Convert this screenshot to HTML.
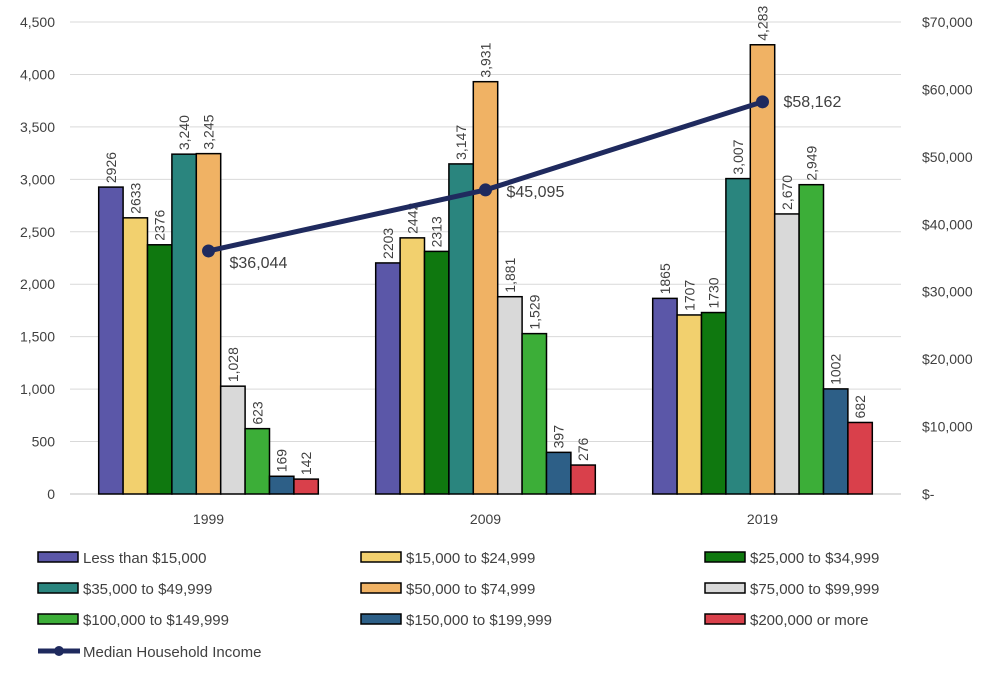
<!DOCTYPE html>
<html><head><meta charset="utf-8"><style>
body{margin:0;background:#fff;font-family:"Liberation Sans",sans-serif}
svg text{font-family:"Liberation Sans",sans-serif;fill:#404040}
</style></head><body>
<svg id="c" width="1000" height="681"></svg>
<script>
const years=["1999","2009","2019"];
const seriesNames=["Less than $15,000","$15,000 to $24,999","$25,000 to $34,999","$35,000 to $49,999","$50,000 to $74,999","$75,000 to $99,999","$100,000 to $149,999","$150,000 to $199,999","$200,000 or more"];
const colors=["#5b57a8","#f2d06e","#0f780f","#2a857e","#f0b264","#d9d9d9","#3cae38","#2d5f87","#d9404b"];
const v1999=[2926,2633,2376,3240,3245,1028,623,169,142];
const v2009=[2203,2442,2313,3147,3931,1881,1529,397,276];
const v2019=[1865,1707,1730,3007,4283,2670,2949,1002,682];
const lab1999=["2926","2633","2376","3,240","3,245","1,028","623","169","142"];
const lab2009=["2203","2442","2313","3,147","3,931","1,881","1,529","397","276"];
const lab2019=["1865","1707","1730","3,007","4,283","2,670","2,949","1002","682"];
const median=[36044,45095,58162];
const medianLabels=["$36,044","$45,095","$58,162"];
const leftTicks=[0,500,1000,1500,2000,2500,3000,3500,4000,4500];
const rightTicks=[0,10000,20000,30000,40000,50000,60000,70000];
const vals=[v1999,v2009,v2019],labs=[lab1999,lab2009,lab2019];
const NS="http://www.w3.org/2000/svg",svg=document.getElementById('c');
const x0=70,x1=901,yb=494,yt=22,gw=(x1-x0)/3,bw=24.4;
const yL=v=>yb-v/4500*(yb-yt), yR=v=>yb-v/70000*(yb-yt);
const gx=i=>x0+(i+0.5)*gw;
const medDy=[17,7,5];
function mk(t,a,p){const e=document.createElementNS(NS,t);for(const k in a)e.setAttribute(k,a[k]);(p||svg).appendChild(e);return e;}
leftTicks.forEach(t=>{
 const l=mk('line',{x1:x0,x2:x1,y1:yL(t),y2:yL(t),stroke:t?'#d9d9d9':'#bfbfbf','stroke-width':1});
 
 
 const tx=mk('text',{x:55,y:yL(t)+5,'text-anchor':'end','font-size':14});tx.textContent=t.toLocaleString('en-US');
 
 
});
rightTicks.forEach(t=>{
 const tx=mk('text',{x:922,y:yR(t)+5,'font-size':14});tx.textContent=t?'$'+t.toLocaleString('en-US'):'$-';
 
 
});
vals.forEach((arr,g)=>{
 const start=gx(g)-bw*arr.length/2;
 arr.forEach((v,s)=>{
  const x=start+s*bw;
  const r=mk('rect',{x:x,y:yL(v),width:bw,height:yb-yL(v),fill:colors[s],stroke:'#000','stroke-width':1.5});
  
  
  const cx=x+bw/2+5,cy=yL(v)-4;
  const t=mk('text',{x:cx,y:cy,'font-size':14,transform:`rotate(-90 ${cx} ${cy})`});t.textContent=labs[g][s];
  
  
 });
 const tx=mk('text',{x:gx(g),y:524,'text-anchor':'middle','font-size':14});tx.textContent=years[g];
 
 
});
const pl=mk('polyline',{points:median.map((m,i)=>gx(i)+','+yR(m)).join(' '),fill:'none',stroke:'#1f2a5e','stroke-width':5});


median.forEach((m,i)=>{
 const c=mk('circle',{cx:gx(i),cy:yR(m),r:6.5,fill:'#1f2a5e'});
 
 
 const t=mk('text',{x:gx(i)+21,y:yR(m)+medDy[i],'font-size':16});t.textContent=medianLabels[i];
 
 
});
const lx=[38,361,705],ly=[557,588,619];
seriesNames.forEach((n,i)=>{
 const x=lx[i%3],y=ly[Math.floor(i/3)];
 const r=mk('rect',{x:x,y:y-5,width:40,height:10,fill:colors[i],stroke:'#000','stroke-width':1.5});
 
 
 const t=mk('text',{x:x+45,y:y+6,'font-size':15});t.textContent=n;
 
 
});
const ll=mk('line',{x1:38,x2:80,y1:651,y2:651,stroke:'#1f2a5e','stroke-width':5});


const lc=mk('circle',{cx:59,cy:651,r:5,fill:'#1f2a5e'});


const lt=mk('text',{x:83,y:657,'font-size':15});lt.textContent='Median Household Income';


</script>
</body></html>
